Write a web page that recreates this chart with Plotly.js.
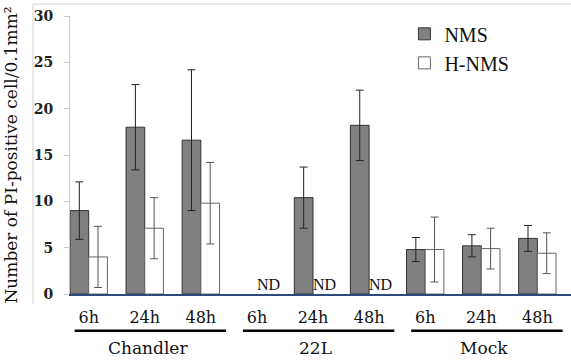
<!DOCTYPE html>
<html>
<head>
<meta charset="utf-8">
<script src="https://cdn.plot.ly/plotly-3.0.1.min.js"></script>
<style>html,body{margin:0;padding:0;background:#fff;}#chart{width:571px;height:360px;}</style>
</head>
<body>
<div id="chart"></div>
<script>
// ---- data ----
const groups = ['Chandler', '22L', 'Mock'];
const times = ['6h', '24h', '48h'];
const nms = [9.0, 18.0, 16.6, null, 10.4, 18.2, 4.8, 5.2, 6.0];
const nmsErr = [3.1, 4.6, 7.6, null, 3.3, 3.8, 1.3, 1.2, 1.4];
const hnms = [4.0, 7.1, 9.8, null, null, null, 4.8, 4.9, 4.4];
const hnmsErr = [3.3, 3.3, 4.4, null, null, null, 3.5, 2.2, 2.2];
const yTicks = [0, 5, 10, 15, 20, 25, 30];

// ---- build ----
const xIdx = nms.map((_, i) => i);
const tickText = [];
groups.forEach(() => times.forEach(t => tickText.push(t)));

const serif = 'DejaVu Serif';
const times_ = 'Liberation Serif';

const traces = [
  {
    type: 'bar', name: 'NMS', x: xIdx, y: nms,
    marker: {color: '#808080', line: {color: '#333333', width: 1}},
    error_y: {type: 'data', array: nmsErr, visible: true, color: '#222222', thickness: 1, width: 4}
  },
  {
    type: 'bar', name: 'H-NMS', x: xIdx, y: hnms,
    marker: {color: '#ffffff', line: {color: '#666666', width: 1}},
    error_y: {type: 'data', array: hnmsErr, visible: true, color: '#555555', thickness: 1, width: 4}
  }
];

const shapes = [
  // outer light frame
  {type: 'line', xref: 'paper', yref: 'paper', x0: -0.0739, x1: 1, y0: 1.043, y1: 1.043, line: {color: '#d0d0d0', width: 1}},
  {type: 'line', xref: 'paper', yref: 'paper', x0: -0.0739, x1: -0.0739, y0: 1.043, y1: -0.038, line: {color: '#d0d0d0', width: 1}}
];
const annotations = [];
groups.forEach((g, gi) => {
  const s = gi * times.length, e = s + times.length - 1;
  shapes.push({type: 'line', xref: 'x', yref: 'paper', x0: s - 0.25, x1: e + 0.45, y0: -0.132, y1: -0.132, line: {color: '#000000', width: 2.5}});
  annotations.push({xref: 'x', yref: 'paper', x: (s + e) / 2 + 0.05, y: -0.193, text: g, showarrow: false,
    font: {family: serif, size: 17, color: '#111'}, xanchor: 'center', yanchor: 'middle'});
});
hnms.forEach((v, i) => {
  if (v === null) {
    annotations.push({xref: 'x', yref: 'y', x: i + 0.2, y: 0, text: 'ND', showarrow: false,
      font: {family: times_, size: 16, color: '#111'}, xanchor: 'center', yanchor: 'bottom', yshift: -1});
  }
});

const layout = {
  width: 571, height: 360,
  margin: {l: 70, r: 0, t: 16, b: 66, pad: 0},
  paper_bgcolor: '#ffffff', plot_bgcolor: '#ffffff',
  barmode: 'group', bargap: 0.333, bargroupgap: 0,
  showlegend: true,
  legend: {x: 0.6675, y: 1.006, xanchor: 'left', yanchor: 'top', bgcolor: 'rgba(0,0,0,0)',
    font: {family: times_, size: 20, color: '#111'}, tracegroupgap: 0},
  xaxis: {
    range: [-0.333, 8.6], tickmode: 'array', tickvals: xIdx, ticktext: tickText,
    showgrid: false, zeroline: false, showline: true, linecolor: '#2f4a7a', linewidth: 1.5,
    ticks: '', tickfont: {family: serif, size: 16, color: '#111'}, ticklabelstandoff: 8
  },
  yaxis: {
    range: [0, 30], tickmode: 'array', tickvals: yTicks, showgrid: false, zeroline: false,
    showline: true, linecolor: '#c8c8c8', linewidth: 1,
    ticks: 'outside', ticklen: 5, tickcolor: '#c8c8c8', ticklabelstandoff: 8,
    tickfont: {family: serif, size: 14, color: '#222', weight: 'bold'},
    title: {text: 'Number of PI-positive cell/0.1mm²', standoff: 11, font: {family: serif, size: 17, color: '#111'}}
  },
  shapes: shapes,
  annotations: annotations
};

Plotly.newPlot('chart', traces, layout, {displayModeBar: false, staticPlot: true});
</script>
</body>
</html>
